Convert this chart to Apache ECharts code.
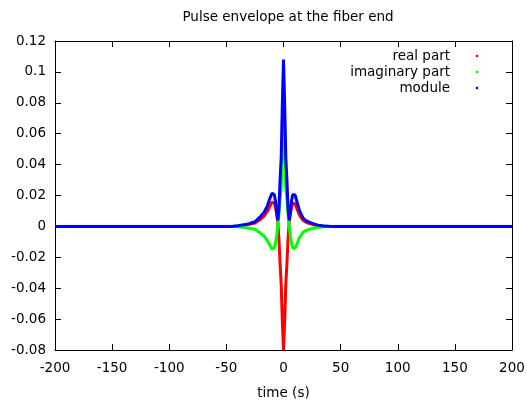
<!DOCTYPE html>
<html>
<head>
<meta charset="utf-8">
<script src="https://cdn.jsdelivr.net/npm/echarts@6/dist/echarts.min.js"></script>
<style>html,body{margin:0;padding:0;background:#fff}#c{width:527px;height:401px}</style>
</head>
<body>
<div id="c"></div>
<script>
var title = 'Pulse envelope at the fiber end';
var xLabel = 'time (s)';
var seriesNames = ['real part', 'imaginary part', 'module'];
var times      = [-200,-45,-40,-35,-30,-25,-20,-17,-14,-12,-10,-9,-8,-7,-6,-5,-4,-3,-2,-1,0,1,2,3,4,5,6,7,8,9,10,12,14,17,20,25,30,35,40,45,200];
var realPart   = [0,0,0.0003,0.0007,0.0013,0.0022,0.0047,0.0066,0.0098,0.013,0.0158,0.016,0.015,0.012,0.008,0.003,-0.008,-0.024,-0.038,-0.062,-0.080,-0.062,-0.038,-0.024,-0.008,0.003,0.008,0.012,0.015,0.0155,0.0148,0.011,0.0072,0.004,0.0025,0.0014,0.0006,0.0002,0,0,0];
var imagPart   = [0,0,-0.0003,-0.0007,-0.0012,-0.002,-0.0045,-0.0062,-0.0095,-0.012,-0.0148,-0.0153,-0.014,-0.011,-0.006,0,0.008,0.018,0.025,0.050,0.074,0.050,0.025,0.018,0.008,0,-0.006,-0.011,-0.014,-0.015,-0.0143,-0.011,-0.0072,-0.004,-0.0025,-0.0014,-0.0006,-0.0002,0,0,0];
var modulePart = [0,0,0.0004,0.001,0.0018,0.003,0.0065,0.009,0.0135,0.018,0.0215,0.022,0.0205,0.0163,0.01,0.004,0.011,0.030,0.045,0.080,0.108,0.080,0.045,0.030,0.011,0.004,0.01,0.0163,0.0205,0.0215,0.0205,0.0155,0.0102,0.0056,0.0035,0.002,0.0008,0.0003,0.0001,0,0];
var colors = ['#ff0000', '#00ff00', '#0000ff'];

function pairs(ys){ return times.map(function(t,i){ return [t, ys[i]]; }); }

var FONT = 'DejaVu Sans';
var chart = echarts.init(document.getElementById('c'), null, {renderer:'canvas'});
var axisLine = {show:true, onZero:false, lineStyle:{color:'#000', width:1}};
var tickIn = {show:true, inside:true, length:6, lineStyle:{color:'#000', width:1}};
var option = {
  backgroundColor:'#fff',
  animation:false,
  title:{text:title, left:283, top:5, textAlign:'center',
    textStyle:{fontFamily:FONT, fontSize:13.5, fontWeight:'normal', color:'#000'}},
  grid:{left:55, right:15, top:41, bottom:51, containLabel:false, outerBoundsMode:'none'},
  xAxis:[
    {type:'value', min:-200, max:200, interval:50, position:'bottom',
     axisLine:axisLine, axisTick:tickIn, splitLine:{show:false},
     axisLabel:{fontFamily:FONT, fontSize:13.5, color:'#000', margin:11},
     name:xLabel, nameLocation:'middle', nameGap:36,
     nameTextStyle:{fontFamily:FONT, fontSize:13.5, color:'#000'}},
    {type:'value', min:-200, max:200, interval:50, position:'top',
     axisLine:axisLine, axisTick:tickIn, splitLine:{show:false}, axisLabel:{show:false}}
  ],
  yAxis:[
    {type:'value', min:-0.08, max:0.12, interval:0.02, position:'left',
     axisLine:axisLine, axisTick:tickIn, splitLine:{show:false},
     axisLabel:{fontFamily:FONT, fontSize:13.5, color:'#000', margin:9,
       formatter:function(v){ return String(+v.toFixed(2)); }}},
    {type:'value', min:-0.08, max:0.12, interval:0.02, position:'right',
     axisLine:axisLine, axisTick:tickIn, splitLine:{show:false}, axisLabel:{show:false}}
  ],
  series:[realPart, imagPart, modulePart].map(function(ys, i){
    return {name:seriesNames[i], type:'line', data:pairs(ys), showSymbol:false,
      lineStyle:{color:colors[i], width:3}, itemStyle:{color:colors[i]},
      xAxisIndex:0, yAxisIndex:0, z:2+i};
  }),
  graphic: seriesNames.map(function(n, i){
    return {type:'group', children:[
      {type:'text', x:450, y:56 + i*16, style:{text:n, fill:'#000', font:'13.5px "DejaVu Sans"', textAlign:'right', textVerticalAlign:'middle'}},
      {type:'circle', shape:{cx:477, cy:56 + i*16, r:1.3}, style:{fill:colors[i]}}
    ]};
  })
};
chart.setOption(option);
</script>
</body>
</html>
